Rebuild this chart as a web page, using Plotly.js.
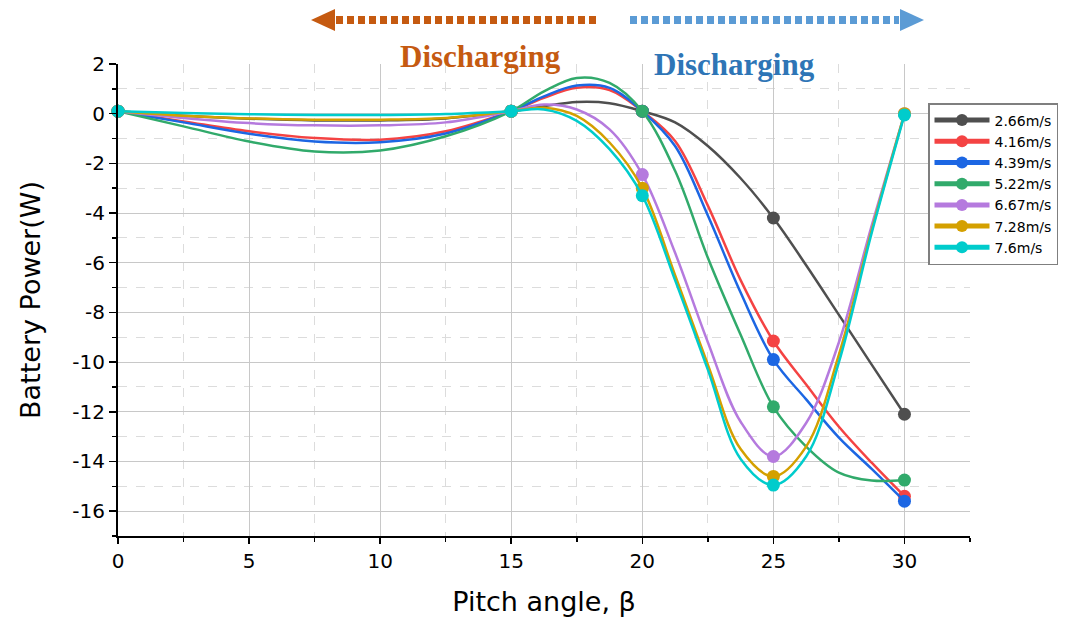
<!DOCTYPE html>
<html>
<head>
<meta charset="utf-8">
<script src="https://cdn.plot.ly/plotly-3.0.1.min.js"></script>
<style>
html,body{margin:0;padding:0;background:#fff;}
#chart{width:1078px;height:617px;}
</style>
</head>
<body>
<div id="chart"></div>
<script>
// Pitch angles with measured points
const pitchAngles = [0, 15, 20, 25, 30];
// Curve sample positions
const curveX = [0, 2.5, 5, 7.5, 10, 12.5, 15, 16.25, 17.5, 18.75, 20, 21.25, 22.5, 23.75, 25, 26.25, 27.5, 28.75, 30];

const seriesNames = ["2.66m/s", "4.16m/s", "4.39m/s", "5.22m/s", "6.67m/s", "7.28m/s", "7.6m/s"];

const v266 = [0.1, -0.08, -0.2, -0.27, -0.27, -0.19, 0.1, 0.3, 0.47, 0.42, 0.1, -0.35, -1.3, -2.6, -4.2, -6.1, -8.1, -10.1, -12.1];
const v416 = [0.1, -0.31, -0.71, -0.98, -1.05, -0.71, 0.1, 0.64, 1.04, 0.95, 0.1, -1.1, -3.7, -6.7, -9.15, -10.9, -12.6, -14.05, -15.4];
const v439 = [0.1, -0.35, -0.81, -1.12, -1.15, -0.8, 0.1, 0.7, 1.13, 1.04, 0.1, -1.3, -4.1, -7.2, -9.9, -11.5, -13.04, -14.3, -15.6];
const v522 = [0.1, -0.51, -1.12, -1.52, -1.48, -0.91, 0.1, 0.9, 1.44, 1.24, 0.1, -2.3, -5.8, -8.9, -11.8, -13.4, -14.45, -14.77, -14.75];
const v667 = [0.1, -0.17, -0.38, -0.47, -0.47, -0.35, 0.1, 0.37, 0.17, -0.63, -2.45, -5.6, -9.2, -12.4, -13.8, -12.45, -9.2, -4.5, 0.0];
const v728 = [0.1, -0.08, -0.19, -0.24, -0.24, -0.17, 0.1, 0.24, -0.09, -1.16, -3.0, -6.5, -10.1, -13.5, -14.6, -13.4, -9.7, -4.7, 0.0];
const v760 = [0.1, 0.03, -0.02, -0.05, -0.05, -0.01, 0.1, 0.17, -0.29, -1.43, -3.3, -6.7, -10.3, -13.9, -14.95, -13.8, -10.0, -4.8, -0.05];

const xTickVals = [0, 5, 10, 15, 20, 25, 30];
const yTickVals = [2, 0, -2, -4, -6, -8, -10, -12, -14, -16];

const seriesValues = [v266, v416, v439, v522, v667, v728, v760];
const colors = ["#4f4f4f", "#f44343", "#1c66e3", "#31aa6b", "#b57ade", "#d4a000", "#00cccc"];

const markerSizes = curveX.map(x => pitchAngles.includes(x) ? 13 : 0);

const traces = seriesNames.map((name, i) => ({
  type: 'scatter',
  mode: 'lines+markers',
  name: name,
  x: curveX,
  y: seriesValues[i],
  line: {color: colors[i], width: 2.5, shape: 'spline', smoothing: 1},
  marker: {color: colors[i], size: markerSizes, opacity: 1, line: {width: 0}},
  cliponaxis: false
}));

// layout geometry
const M = {l: 118, r: 108, t: 64, b: 81};
const W = 1078, H = 617;
const pw = W - M.l - M.r, ph = H - M.t - M.b;
const px = x => (x - M.l) / pw;
const py = y => (H - M.b - y) / ph;

const orange = "#c55a11", blue = "#5b9bd5";
const shapes = [
  {type: 'line', xref: 'paper', yref: 'paper', x0: px(336), x1: px(596), y0: py(20), y1: py(20),
   line: {color: orange, width: 8, dash: '7px,4px'}},
  {type: 'path', xref: 'paper', yref: 'paper',
   path: `M ${px(311)} ${py(20)} L ${px(335)} ${py(9)} L ${px(335)} ${py(31)} Z`,
   fillcolor: orange, line: {width: 0}},
  {type: 'line', xref: 'paper', yref: 'paper', x0: px(630), x1: px(899), y0: py(20), y1: py(20),
   line: {color: blue, width: 8, dash: '7px,4px'}},
  {type: 'path', xref: 'paper', yref: 'paper',
   path: `M ${px(924)} ${py(20)} L ${px(900)} ${py(9)} L ${px(900)} ${py(31)} Z`,
   fillcolor: blue, line: {width: 0}}
];

const annotations = [
  {xref: 'paper', yref: 'paper', x: px(480), y: py(57), text: '<b>Discharging</b>', showarrow: false,
   font: {family: 'Liberation Serif', size: 31, color: orange}, xanchor: 'center', yanchor: 'middle'},
  {xref: 'paper', yref: 'paper', x: px(734), y: py(64), text: '<b>Discharging</b>', showarrow: false,
   font: {family: 'Liberation Serif', size: 31, color: '#2e75b6'}, xanchor: 'center', yanchor: 'middle'}
];

const sans = 'DejaVu Sans, Liberation Sans, Arial, sans-serif';

const layout = {
  width: W, height: H,
  margin: M,
  paper_bgcolor: '#ffffff', plot_bgcolor: '#ffffff',
  font: {family: sans, color: '#000'},
  showlegend: true,
  legend: {
    x: px(928), y: py(103), xanchor: 'left', yanchor: 'top',
    bgcolor: '#ffffff', bordercolor: '#7f7f7f', borderwidth: 1.5,
    font: {family: sans, size: 14, color: '#000'}, itemsizing: 'constant', itemwidth: 55,
    tracegroupgap: 0
  },
  xaxis: {
    range: [0, 32.5], tickmode: 'array', tickvals: xTickVals, ticktext: xTickVals.map(String),
    showline: true, linecolor: '#000', linewidth: 2, mirror: false,
    ticks: 'outside', ticklen: 6, tickwidth: 1.5, tickcolor: '#000',
    tickfont: {family: sans, size: 20, color: '#000'},
    showgrid: true, gridcolor: '#c8c8c8', gridwidth: 1, zeroline: false,
    minor: {dtick: 2.5, tick0: 0, ticks: 'outside', ticklen: 4, tickwidth: 1.5, tickcolor: '#000',
            showgrid: true, gridcolor: '#dcdcdc', griddash: 'dash', gridwidth: 1},
    title: {text: 'Pitch angle, β', font: {family: sans, size: 27, color: '#000'}},
    automargin: false
  },
  yaxis: {
    range: [-17, 2], tickmode: 'array', tickvals: yTickVals, ticktext: yTickVals.map(String),
    showline: true, linecolor: '#000', linewidth: 2, mirror: false,
    ticks: 'outside', ticklen: 7, tickwidth: 1.5, tickcolor: '#000',
    tickfont: {family: sans, size: 20, color: '#000'},
    showgrid: true, gridcolor: '#c8c8c8', gridwidth: 1, zeroline: false,
    minor: {dtick: 1, tick0: 0, ticks: 'outside', ticklen: 4, tickwidth: 1.5, tickcolor: '#000',
            showgrid: true, gridcolor: '#dcdcdc', griddash: 'dash', gridwidth: 1},
    title: {text: 'Battery Power(W)', font: {family: sans, size: 27, color: '#000'}, standoff: 24},
    automargin: true
  },
  shapes: shapes,
  annotations: annotations
};

Plotly.newPlot('chart', traces, layout, {displayModeBar: false, staticPlot: true});
</script>
</body>
</html>
